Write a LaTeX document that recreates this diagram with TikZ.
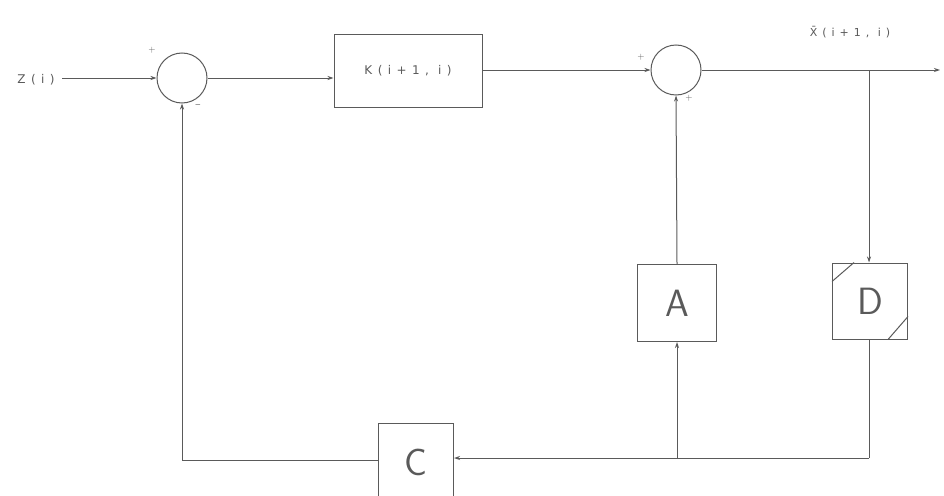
\documentclass[tikz,border=0pt]{standalone}
\usepackage{fontspec}
\usetikzlibrary{arrows.meta}
\newfontfamily\lblfont[LetterSpace=45]{DejaVu Sans}
\definecolor{ink}{HTML}{5A5A5A}
\begin{document}
\begin{tikzpicture}[x=1pt,y=-1pt,
  line/.style={draw=ink,line width=1pt},
  arr/.style={line,-{Stealth[length=6pt,width=4pt]}},
  sumnode/.style={circle,draw=ink,line width=1pt,minimum size=50pt,inner sep=0pt},
  blk/.style={rectangle,draw=ink,line width=1pt,inner sep=0pt},
  lbl/.style={text=ink,font=\fontsize{12}{12}\lblfont},
  big/.style={text=ink,font=\fontsize{38}{38}\sffamily},
  sgn/.style={text=ink,font=\fontsize{9}{9}\sffamily,inner sep=0pt}]
\useasboundingbox (0,0) rectangle (944,495);
\clip (0,0) rectangle (944,495);
% nodes
\node[lbl] (z) at (36,80) {Z(i)};
\node[sumnode] (s1) at (182,78) {};
\node[blk,minimum width=148pt,minimum height=73pt,lbl] (k) at (408,71) {K(i+1, i)};
\node[sumnode] (s2) at (676,70) {};
\node[blk,minimum width=79pt,minimum height=77pt,big] (a) at (677,303) {A};
\node[blk,minimum width=75pt,minimum height=76pt,big] (d) at (870,301) {D};
\node[blk,minimum width=75pt,minimum height=110pt,anchor=north] (c) at (416,423) {};
\node[big] (ct) at (416,462) {C};
\node[lbl,font=\fontsize{11}{11}\lblfont] (xl) at (850,32) {\=X(i+1, i)};
% signs
\node[sgn] (p1) at (152,50) {+};
\node[sgn] (m1) at (198,106) {\textendash};
\node[sgn] (p2) at (641,57) {+};
\node[sgn] (p3) at (689,98) {+};
% coordinates
\coordinate (out) at (940,70);
\coordinate (br) at (869,70);
\coordinate (bd) at (869,458);
\coordinate (ba) at (677,458);
\coordinate (bc) at (182,460);
% D corner marks
\draw[line] ([yshift=-19pt]d.north west) -- ([xshift=22pt]d.north west);
\draw[line] ([xshift=-20pt]d.south east) -- ([yshift=23pt]d.south east);
% connectors
\draw[arr] ([xshift=4pt]z.east |- s1.west) -- (s1.west);
\draw[arr] (s1.east) -- (s1.east -| k.west);
\draw[arr] (k.east |- s2.west) -- (s2.west);
\draw[arr] (s2.east) -- (out);
\draw[arr] (br) -- (br |- d.north);
\draw[line] (br |- d.south) -- (bd);
\draw[arr] (bd) -- (bd -| c.east);
\draw[arr] (ba) -- (a.south);
\draw[arr] (a.north) -- (s2.south);
\draw[line] (c.west |- bc) -- (bc);
\draw[arr] (bc) -- (s1.south);
\end{tikzpicture}
\end{document}
